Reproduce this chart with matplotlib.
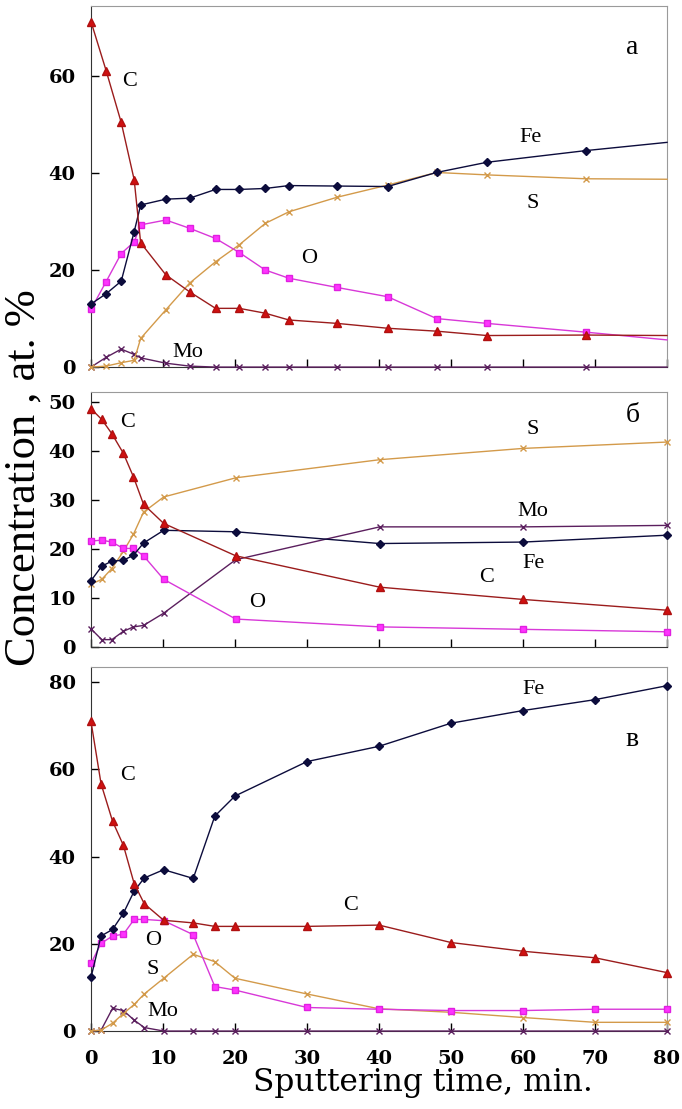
import numpy as np
import matplotlib
matplotlib.use("Agg")
import matplotlib.pyplot as plt

plt.rcParams['font.family'] = ['Liberation Serif', 'DejaVu Serif']

# panel a
ta = [0, 2.1, 4.2, 6.0, 6.9, 10.4, 13.7, 17.3, 20.6, 24.2, 27.5, 34.2, 41.2, 48.0, 55.0, 68.7, 80]
c_a = [71.2, 61.1, 50.4, 38.6, 25.6, 19.0, 15.5, 12.1, 12.1, 11.1, 9.7, 9.0, 8.0, 7.4, 6.5, 6.6, 6.5]
fe_a = [13.0, 15.1, 17.7, 27.9, 33.4, 34.6, 34.8, 36.6, 36.6, 36.8, 37.4, 37.3, 37.2, 40.1, 42.2, 44.6, 46.3]
o_a = [11.9, 17.6, 23.4, 25.8, 29.3, 30.3, 28.6, 26.5, 23.6, 20.0, 18.3, 16.4, 14.5, 10.0, 9.0, 7.2, 5.6]
s_a = [0, 0.2, 0.9, 1.4, 5.9, 11.8, 17.3, 21.7, 25.2, 29.6, 32.0, 35.0, 37.5, 40.1, 39.6, 38.8, 38.7]
mo_a = [0, 2.0, 3.7, 2.6, 1.9, 0.8, 0.2, 0, 0, 0, 0, 0, 0, 0, 0, 0, 0]

# panel b
tb = [0, 1.5, 2.9, 4.5, 5.9, 7.3, 10.1, 20.1, 40.1, 60, 80]
c_b = [48.6, 46.4, 43.5, 39.5, 34.7, 29.1, 25.2, 18.6, 12.2, 9.7, 7.5]
fe_b = [13.5, 16.5, 17.5, 17.7, 18.7, 21.2, 23.8, 23.5, 21.1, 21.4, 22.8]
o_b = [21.6, 21.8, 21.4, 20.1, 20.1, 18.6, 13.8, 5.7, 4.1, 3.6, 3.1]
s_b = [12.8, 13.8, 16.0, 19.5, 23.0, 27.5, 30.6, 34.5, 38.2, 40.5, 41.8]
mo_b = [3.7, 1.5, 1.5, 3.2, 4.1, 4.4, 6.9, 17.8, 24.5, 24.5, 24.8]

# panel c
tc = [0, 1.4, 3.0, 4.5, 6.0, 7.4, 10.1, 14.2, 17.2, 20, 30, 40, 50, 60, 70, 80]
c_c = [71.0, 56.7, 48.1, 42.6, 33.8, 29.2, 25.4, 24.8, 24.0, 24.0, 24.0, 24.3, 20.3, 18.3, 16.8, 13.4]
fe_c = [12.3, 21.8, 23.3, 27.0, 32.1, 35.1, 37.0, 35.0, 49.3, 53.9, 61.8, 65.3, 70.6, 73.5, 76.0, 79.2]
o_c = [15.5, 20.1, 21.8, 22.2, 25.6, 25.6, 25.3, 22.1, 10.2, 9.4, 5.4, 5.0, 4.7, 4.7, 5.0, 5.0]
s_c = [0, 0.2, 1.8, 4.0, 6.1, 8.5, 12.1, 17.6, 15.9, 12.1, 8.5, 5.1, 4.3, 3.1, 2.0, 2.0]
mo_c = [0, 0.2, 5.2, 4.7, 2.5, 0.8, 0, 0, 0, 0, 0, 0, 0, 0, 0, 0]

xticks = [0, 10, 20, 30, 40, 50, 60, 70, 80]
yticks_a = [0, 20, 40, 60]
yticks_b = [0, 10, 20, 30, 40, 50]
yticks_c = [0, 20, 40, 60, 80]

labels_a = [("C", 5.4, 58.8), ("Fe", 61.0, 47.4), ("S", 61.4, 33.8), ("O", 30.3, 22.3),
            ("Mo", 13.5, 3.1)]
labels_b = [("C", 5.1, 45.7), ("S", 61.3, 44.4), ("Mo", 61.3, 27.7), ("Fe", 61.4, 17.1),
            ("C", 55.0, 14.2), ("O", 23.1, 9.1)]
labels_c = [("C", 5.1, 58.6), ("Fe", 61.4, 78.3), ("C", 36.0, 28.9), ("O", 8.6, 20.8),
            ("S", 8.6, 14.0), ("Mo", 10.0, 4.4)]

styles = {
    'Mo': dict(color='#5b1f5e', marker='x', ms=4, mew=1.0),
    'S': dict(color='#d39a4a', marker='x', ms=4, mew=1.0),
    'O': dict(color='#d838d8', marker='s', ms=5, mfc='#ff33ff', mec='#e020e0'),
    'Fe': dict(color='#0c0c3c', marker='D', ms=4),
    'C': dict(color='#9b1c1c', marker='^', ms=6, mfc='#d01010', mec='#b01010'),
}


def draw_panel(ax, t, series, ylim, yticks, labels, letter, last_marker=True):
    for name in ['Mo', 'S', 'O', 'Fe', 'C']:
        st = styles[name]
        ev = None if last_marker else slice(0, len(t) - 1)
        ax.plot(t, series[name], lw=1.0, markevery=ev, clip_on=False, zorder=3, **st)
    ax.set_xlim(0, 80)
    ax.set_ylim(*ylim)
    ax.set_xticks(xticks)
    ax.set_yticks(yticks)
    ax.tick_params(direction='in', length=6, width=1.0, labelsize=14)
    ax.tick_params(axis='y', pad=11)
    ax.tick_params(axis='x', pad=14)
    for lab in ax.get_yticklabels() + ax.get_xticklabels():
        lab.set_fontweight('bold')
        lab.set_family('DejaVu Serif')
    for sp in ['top', 'right']:
        ax.spines[sp].set_color('#9a9a9a')
    for sp in ['left', 'bottom']:
        ax.spines[sp].set_color('#333333')
    for txt, x, y in labels:
        ax.text(x, y, txt, fontsize=16, ha='center', va='center', zorder=5)
    ax.text(letter[1], letter[2], letter[0], fontsize=20, ha='center', va='center')


fig = plt.figure(figsize=(6.82, 11.09), dpi=100)
ax_a = fig.add_axes([0.1334, 0.669, 0.8446, 0.3256])
ax_b = fig.add_axes([0.1334, 0.4166, 0.8446, 0.2299])
ax_c = fig.add_axes([0.1334, 0.0703, 0.8446, 0.3283])

draw_panel(ax_a, ta, {'C': c_a, 'Fe': fe_a, 'O': o_a, 'S': s_a, 'Mo': mo_a},
           (0, 74.4), yticks_a, labels_a, ("а", 75.1, 65.8), last_marker=False)
draw_panel(ax_b, tb, {'C': c_b, 'Fe': fe_b, 'O': o_b, 'S': s_b, 'Mo': mo_b},
           (0, 52), yticks_b, labels_b, ("б", 75.3, 47.3))
draw_panel(ax_c, tc, {'C': c_c, 'Fe': fe_c, 'O': o_c, 'S': s_c, 'Mo': mo_c},
           (0, 83.5), yticks_c, labels_c, ("в", 75.1, 66.9))

ax_a.set_xticklabels([])
ax_b.set_xticklabels([])
for lab in ax_c.get_xticklabels():
    lab.set_fontweight('bold')
    lab.set_family('DejaVu Serif')

fig.text(0.034, 0.569, "Concentration , at. %", rotation=90, fontsize=32,
         ha='center', va='center')
fig.text(0.62, 0.024, "Sputtering time, min.", fontsize=22.5, ha='center', va='center',
         family=['DejaVu Serif'])

fig.savefig("out.png", dpi=100)
